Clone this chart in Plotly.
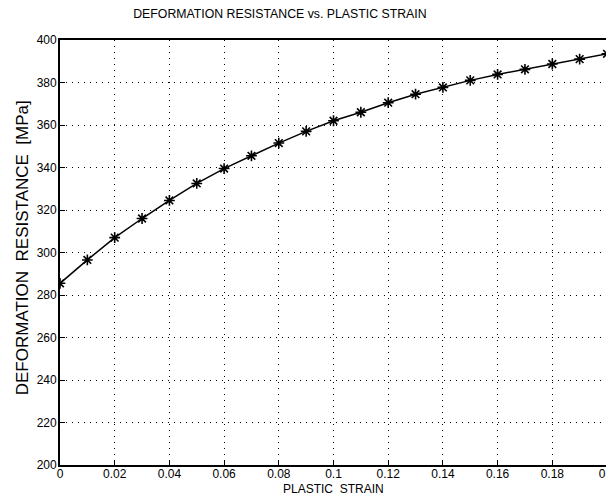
import plotly.graph_objects as go

strain = [0.00, 0.01, 0.02, 0.03, 0.04, 0.05, 0.06, 0.07, 0.08, 0.09, 0.10,
          0.11, 0.12, 0.13, 0.14, 0.15, 0.16, 0.17, 0.18, 0.19, 0.20]
resistance = [285.5, 296.5, 307.0, 316.0, 324.5, 332.5, 339.5, 345.5, 351.5, 357.0, 362.0,
              366.0, 370.5, 374.5, 377.7, 381.0, 383.8, 386.2, 388.7, 391.0, 393.5]

x_tick_vals = [0, 0.02, 0.04, 0.06, 0.08, 0.1, 0.12, 0.14, 0.16, 0.18, 0.2]
x_tick_text = ["0", "0.02", "0.04", "0.06", "0.08", "0.1", "0.12", "0.14", "0.16", "0.18", "0.2"]
y_tick_vals = [200, 220, 240, 260, 280, 300, 320, 340, 360, 380, 400]

FONT = "Liberation Sans, Arial, sans-serif"
# page body has an 8px margin, so the figure is drawn at (8, 8)
W, H = 606, 488
M_L, M_R, M_T, M_B = 52, 7, 32, 31
PLOT_W = W - M_L - M_R
PLOT_H = H - M_T - M_B

fig = go.Figure()
fig.add_trace(go.Scatter(
    x=strain, y=resistance, mode="lines+markers",
    line=dict(color="black", width=1.5),
    marker=dict(symbol="asterisk-open", size=9, color="black",
                line=dict(color="black", width=1.6)),
    showlegend=False,
))

axis_common = dict(
    showline=True, linecolor="black", linewidth=1.8, mirror=True,
    showgrid=True, gridcolor="black", gridwidth=1, griddash="1px,5px",
    ticks="inside", ticklen=5, tickcolor="black", tickwidth=1.2,
    zeroline=False, automargin=False,
    tickfont=dict(family=FONT, size=12, color="black"),
)

fig.update_xaxes(range=[0, 0.2], tickvals=x_tick_vals, ticktext=x_tick_text,
                 ticklabeloverflow="allow", ticklabelstandoff=-3,
                 **axis_common)
fig.update_yaxes(range=[200, 400], tickvals=y_tick_vals, ticklabelstandoff=-1,
                 **axis_common)

fig.add_annotation(text="DEFORMATION  RESISTANCE  [MPa]", xref="paper", yref="paper",
                   x=-(M_L - 14) / PLOT_W, y=0.51, xanchor="center", yanchor="middle",
                   textangle=-90, showarrow=False,
                   font=dict(family=FONT, size=17, color="black"), borderpad=0)

fig.add_annotation(text="PLASTIC  STRAIN", xref="paper", yref="paper",
                   x=0.5, y=-24 / PLOT_H, xanchor="center", yanchor="middle",
                   showarrow=False, font=dict(family=FONT, size=12, color="black"),
                   borderpad=0)

fig.update_layout(
    width=W, height=H,
    margin=dict(l=M_L, r=M_R, t=M_T, b=M_B),
    paper_bgcolor="white", plot_bgcolor="white",
    title=dict(text="DEFORMATION RESISTANCE vs. PLASTIC STRAIN",
               font=dict(family=FONT, size=12.3, color="black"),
               x=0.402, xref="paper", xanchor="center", y=1 - 6 / H, yanchor="middle"),
)

fig.write_html("out.html")
